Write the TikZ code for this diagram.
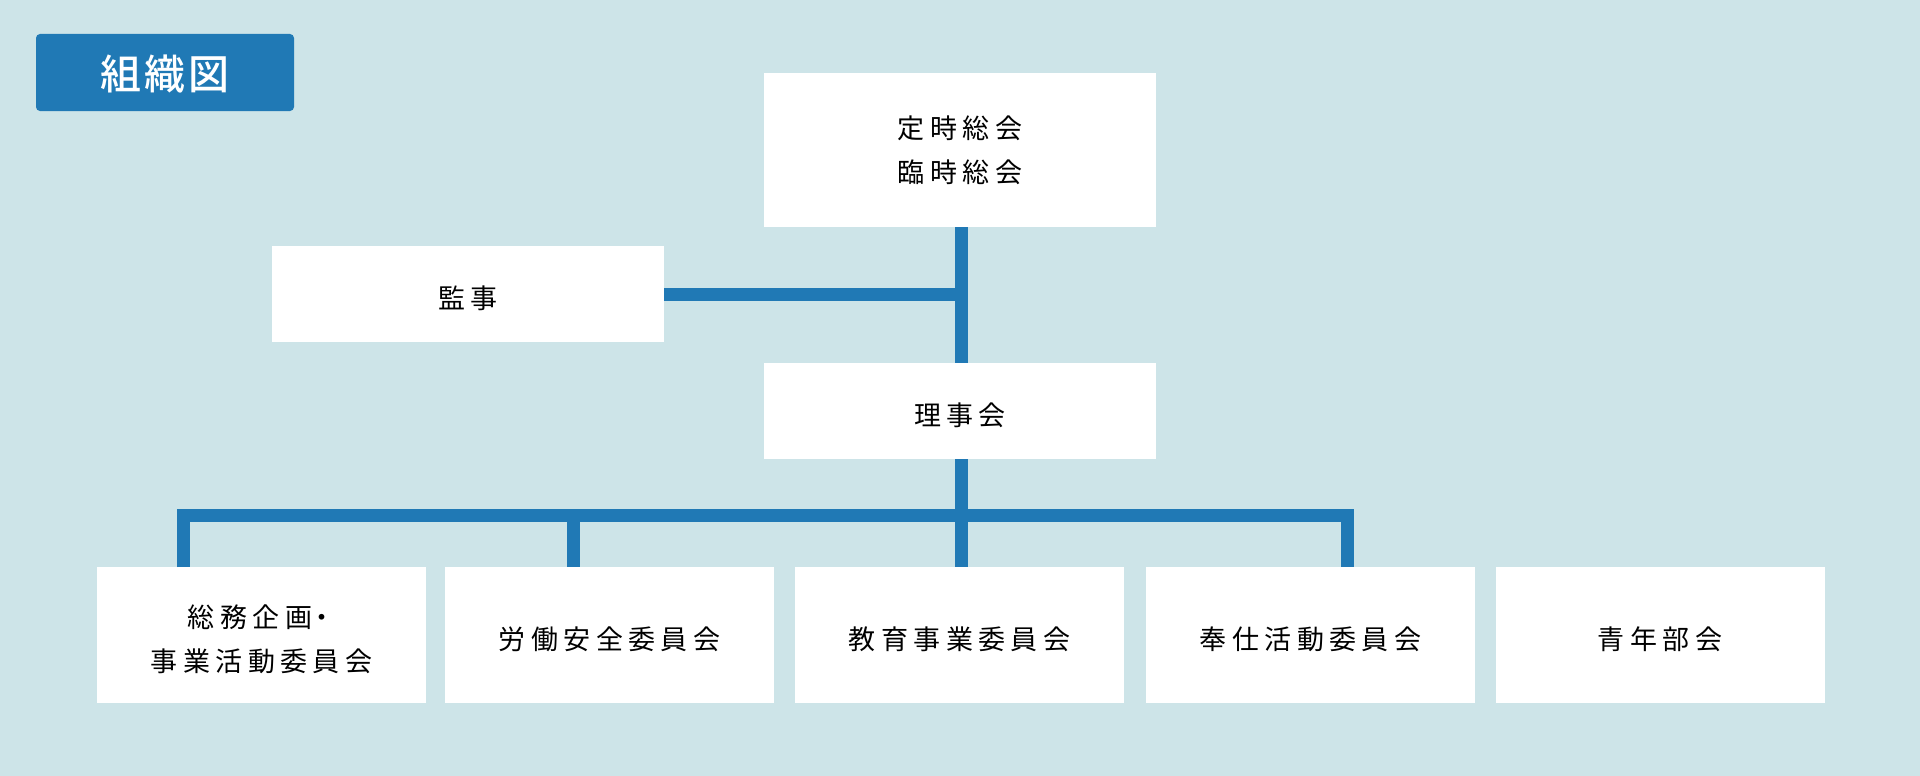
\documentclass[tikz,border=0pt]{standalone}
\usepackage{fontspec}
\newfontfamily\jpfont[LetterSpace=20]{Noto Sans CJK JP}
\newfontfamily\jpmed[LetterSpace=8]{Noto Sans CJK JP Medium}
\definecolor{bgc}{RGB}{205,228,232}
\definecolor{linec}{RGB}{32,121,181}
\newcommand{\lowertxt}[1]{\raisebox{-4pt}[\height][\depth]{#1}}
\begin{document}
\begin{tikzpicture}[x=1pt,y=-1pt,
  box/.style={fill=white,draw=none,inner sep=0pt,align=center,
    font=\jpfont\fontsize{27}{44}\selectfont},
  wide/.style={box,minimum width=392pt,minimum height=154pt},
  mid/.style={box,minimum width=392pt,minimum height=96pt},
  unit/.style={box,minimum width=329pt,minimum height=136pt},
  conn/.style={draw=linec,line width=13pt,line cap=butt,line join=miter}]
\fill[bgc] (0,0) rectangle (1920,776);
\useasboundingbox (0,0) rectangle (1920,776);
% title
\node[fill=linec,rounded corners=4pt,minimum width=258pt,minimum height=77pt,inner sep=0pt,
  text=white,font=\jpmed\fontsize{41}{44}\selectfont] (title) at (165,72.5) {\raisebox{-2pt}[\height][\depth]{組織図}};
% boxes
\node[wide] (sokai) at (960,150) {定時総会\\臨時総会};
\node[mid] (kanji) at (468,294) {\lowertxt{監事}};
\node[mid] (riji) at (960,411) {\lowertxt{理事会}};
\node[unit] (b1) at (261.5,635) {\lowertxt{総務企画\kern-4pt・}\\\lowertxt{事業活動委員会}};
\node[unit] (b2) at (609.5,635) {\lowertxt{労働安全委員会}};
\node[unit] (b3) at (959.5,635) {\lowertxt{教育事業委員会}};
\node[unit] (b4) at (1310.5,635) {\lowertxt{奉仕活動委員会}};
\node[unit] (b5) at (1660,635) {\lowertxt{青年部会}};
% connector points
\coordinate (trunk) at (961,294.5);
\coordinate (busy) at (961,515.5);
\coordinate (d1) at (183.5,567);
\coordinate (d2) at (573,567);
\coordinate (d4) at (1347,567);
% connectors
\path[conn] (sokai.south -| trunk) -- (riji.north -| trunk);
\path[conn] (kanji.east |- trunk) -- (trunk);
\path[conn] (riji.south -| trunk) -- (b3.north -| trunk);
\path[conn] (d1) -- (d1 |- busy) -- (d4 |- busy) -- (d4);
\path[conn] (d2 |- busy) -- (d2);
\end{tikzpicture}
\end{document}
